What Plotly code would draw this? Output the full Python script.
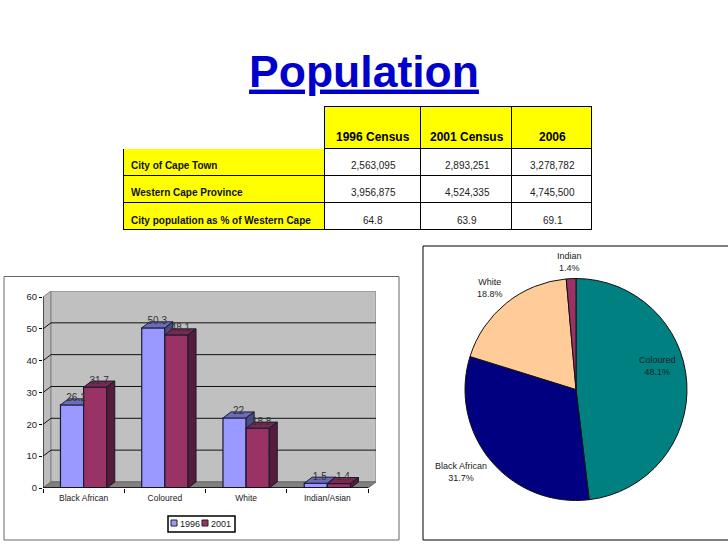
import plotly.graph_objects as go

W, H = 728, 546

# bar chart data
categories = ['Black African', 'Coloured', 'White', 'Indian/Asian']
series_names = ['1996', '2001']
values_1996 = [26.1, 50.3, 22, 1.5]
values_2001 = [31.7, 48.1, 18.8, 1.4]
y_ticks = [0, 10, 20, 30, 40, 50, 60]

# pie data
pie_labels = ['Coloured', 'Black African', 'White', 'Indian']
pie_values = [48.1, 31.7, 18.8, 1.4]
pie_colors = ['#008080', '#000080', '#FFCC99', '#993366']

# table data
table_header = ['', '1996 Census', '2001 Census', '2006']
row_names = ['City of Cape Town', 'Western Cape Province', 'City population as % of Western Cape']
cape_town = [2563095, 2893251, 3278782]
western_cape = [3956875, 4524335, 4745500]
city_share = [64.8, 63.9, 69.1]

FONT = 'Liberation Sans'
BAR_W = 0.285
DX, DY = 0.0985, 1.9  # depth of the fake 3d, in axis units
x_pos = list(range(len(categories)))


def fx(p):
    return p / W


def fy(p):
    return 1 - p / H


def faces(values, offset):
    # top and side polygons of each bar, worked out from the values
    top_x, top_y, side_x, side_y = [], [], [], []
    for pos, v in zip(x_pos, values):
        x0 = pos + offset
        x1 = x0 + BAR_W
        top_x += [x0, x1, x1 + DX, x0 + DX, x0, None]
        top_y += [v, v, v + DY, v + DY, v, None]
        side_x += [x1, x1 + DX, x1 + DX, x1, x1, None]
        side_y += [0, DY, v + DY, v, 0, None]
    return top_x, top_y, side_x, side_y


def add_series(fig, name, values, offset, color, top_color, side_color, xa, ya):
    fig.add_trace(go.Bar(x=x_pos, y=values, width=BAR_W, offset=offset, name=name,
                         marker=dict(color=color, line=dict(color='#1A1A3A', width=1.2)),
                         xaxis=xa, yaxis=ya))
    top_x, top_y, side_x, side_y = faces(values, offset)
    fig.add_trace(go.Scatter(x=top_x, y=top_y, mode='lines', fill='toself', fillcolor=top_color,
                             line=dict(color='#1A1A3A', width=1), xaxis=xa, yaxis=ya))
    fig.add_trace(go.Scatter(x=side_x, y=side_y, mode='lines', fill='toself', fillcolor=side_color,
                             line=dict(color='#1A1A2A', width=1), xaxis=xa, yaxis=ya))


fig = go.Figure()

# 1996 goes on its own overlay so that 2001 is painted over it
add_series(fig, series_names[0], values_1996, -BAR_W, '#9999FF', '#6A6CB8', '#4C4C80', 'x2', 'y2')
add_series(fig, series_names[1], values_2001, 0, '#993366', '#7A2850', '#561C3C', 'x3', 'y3')

# data labels
fig.add_trace(go.Scatter(
    x=[p - BAR_W / 2 + DX / 2 for p in x_pos] + [p + BAR_W / 2 + DX / 2 for p in x_pos],
    y=[v + DY for v in values_1996] + [v + DY for v in values_2001],
    text=[str(v) for v in values_1996] + [str(v) for v in values_2001],
    mode='text', textposition='middle center',
    textfont=dict(family=FONT, size=10, color='#333333'), xaxis='x3', yaxis='y3'))

# pie
fig.add_trace(go.Pie(labels=pie_labels, values=pie_values, sort=False, direction='clockwise',
                     rotation=0, textinfo='none',
                     marker=dict(colors=pie_colors, line=dict(color='#111111', width=1)),
                     domain=dict(x=[fx(465), fx(687)], y=[fy(500.5), fy(278.5)])))

# table grid; go.Table always sets text at the top of a cell, the reference has it low,
# so the words go in as annotations further down
empty_col = [''] * len(row_names)
fig.add_trace(go.Table(
    domain=dict(x=[fx(123), fx(593)], y=[fy(240), fy(106.5)]),
    columnwidth=[202, 96.5, 91, 80.5],
    header=dict(values=[''] * 4, height=41.5,
                fill_color=['white', 'yellow', 'yellow', 'yellow'],
                line=dict(color=['white', 'black', 'black', 'black'], width=1)),
    cells=dict(values=[empty_col] * 4, height=27,
               fill_color=['yellow', 'white', 'white', 'white'],
               line=dict(color='black', width=1))))

annotations = []
col_centers = [373.25, 467, 552.75]
row_centers = [165.3, 192.5, 220.3]
for h, cx in zip(table_header[1:], col_centers):
    annotations.append(dict(text=f'<b>{h}</b>', xref='paper', yref='paper', x=fx(cx), y=fy(136.7),
                            xanchor='center', yanchor='middle', showarrow=False,
                            font=dict(family=FONT, size=12, color='black')))
for i, (name, cy) in enumerate(zip(row_names, row_centers)):
    annotations.append(dict(text=f'<b>{name}</b>', xref='paper', yref='paper', x=fx(128.5), y=fy(cy),
                            xanchor='left', yanchor='middle', showarrow=False,
                            font=dict(family=FONT, size=10, color='#111111')))
    row = [cape_town, western_cape, city_share][i]
    for v, cx in zip(row, col_centers):
        annotations.append(dict(text=f'{v:,}', xref='paper', yref='paper', x=fx(cx), y=fy(cy),
                                xanchor='center', yanchor='middle', showarrow=False,
                                font=dict(family=FONT, size=10, color='#222222')))

# walls, floor and grid of the fake 3d box
x_lo, x_hi = -0.5, 3.5
shapes = [
    dict(type='path', path=f'M{x_lo},0 L{x_lo+DX},{DY} L{x_lo+DX},{60+DY} L{x_lo},60 Z',
         fillcolor='#BDBDBD', line=dict(color='#808080', width=1), layer='below'),
    dict(type='rect', x0=x_lo + DX, x1=x_hi + DX, y0=DY, y1=60 + DY,
         fillcolor='#C0C0C0', line=dict(color='#808080', width=1), layer='below'),
    dict(type='path', path=f'M{x_lo},0 L{x_hi},0 L{x_hi+DX},{DY} L{x_lo+DX},{DY} Z',
         fillcolor='#808080', line=dict(color='#666666', width=1), layer='below'),
]
for t in y_ticks[1:-1]:
    shapes.append(dict(type='path', path=f'M{x_lo},{t} L{x_lo+DX},{t+DY} L{x_hi+DX},{t+DY}',
                       line=dict(color='#111111', width=1), layer='below'))
shapes.append(dict(type='line', x0=x_lo, x1=x_lo, y0=0, y1=60, line=dict(color='black', width=1), layer='below'))
shapes.append(dict(type='line', x0=x_lo, x1=x_hi, y0=0, y1=0, line=dict(color='black', width=1.5), layer='above'))
for s in shapes:
    s['xref'] = 'x'
    s['yref'] = 'y'

# frames
line_gray = dict(color='#666666', width=1)
shapes.append(dict(type='path', xref='paper', yref='paper',
                   path=f'M{fx(4)},{fy(540)} L{fx(4)},{fy(276.5)} L{fx(399)},{fy(276.5)} L{fx(399)},{fy(540)} Z',
                   line=line_gray))
shapes.append(dict(type='path', xref='paper', yref='paper',
                   path=f'M{fx(728)},{fy(246)} L{fx(423)},{fy(246)} L{fx(423)},{fy(540)} L{fx(728)},{fy(540)}',
                   line=dict(color='black', width=1)))

# hand drawn legend box, the plotly one cannot get this small
shapes.append(dict(type='rect', xref='paper', yref='paper', x0=fx(168), x1=fx(235), y0=fy(532), y1=fy(516),
                   fillcolor='white', line=dict(color='black', width=1.5)))
legend_spots = [(171, 178, '#9999FF'), (202, 209, '#993366')]
for name, (sw, tx, col) in zip(series_names, legend_spots):
    shapes.append(dict(type='rect', xref='paper', yref='paper', x0=fx(sw), x1=fx(sw + 6), y0=fy(526), y1=fy(520),
                       fillcolor=col, line=dict(color='#222222', width=1)))
    annotations.append(dict(text=name, xref='paper', yref='paper', x=fx(tx), y=fy(523.5), xanchor='left',
                            yanchor='middle', showarrow=False, font=dict(family=FONT, size=9, color='#222222')))

# pie labels
pie_spots = [(657, 366), (461, 472), (490, 288), (569, 261.5)]
for lab, val, (px, py) in zip(pie_labels, pie_values, pie_spots):
    annotations.append(dict(text=f'{lab}<br>{val}%', xref='paper', yref='paper', x=fx(px), y=fy(py),
                            xanchor='center', yanchor='middle', showarrow=False,
                            font=dict(family=FONT, size=9, color='#222222')))

axis_x = dict(domain=[fx(43), fx(376)], range=[x_lo, x_hi + DX], showgrid=False, zeroline=False, automargin=False)
axis_y = dict(domain=[fy(488), fy(291)], range=[0, 60 + DY], showgrid=False, zeroline=False, automargin=False)
hidden_x = dict(axis_x, overlaying='x', visible=False)

fig.update_layout(
    width=W, height=H, autosize=False,
    margin=dict(l=0, r=0, t=0, b=0),
    paper_bgcolor='white', plot_bgcolor='rgba(0,0,0,0)',
    showlegend=False, barmode='overlay',
    title=dict(text='<b><u>Population</u></b>', x=364 / W, xanchor='center', y=fy(71), yanchor='middle',
               font=dict(family=FONT, size=44.5, color='#0000CC')),
    xaxis=dict(axis_x, tickvals=x_pos, ticktext=categories, ticks='', ticklen=0, ticklabelstandoff=3,
               tickfont=dict(family=FONT, size=8.5, color='#222222'),
               minor=dict(tickvals=[-0.5, 0.5, 1.5, 2.5, 3.5], ticks='outside', ticklen=4,
                          tickcolor='black', tickwidth=1)),
    yaxis=dict(axis_y, tickvals=y_ticks, ticks='outside', ticklen=3, tickcolor='black',
               tickfont=dict(family=FONT, size=9.5, color='#222222')),
    xaxis2=hidden_x, yaxis2=dict(axis_y, overlaying='y', visible=False),
    xaxis3=hidden_x, yaxis3=dict(axis_y, overlaying='y', visible=False),
    shapes=shapes, annotations=annotations,
)

# the page body has an 8px margin by default
fig.write_html('out.html', config=dict(displayModeBar=False),
               post_script="document.body.style.margin='0';")
